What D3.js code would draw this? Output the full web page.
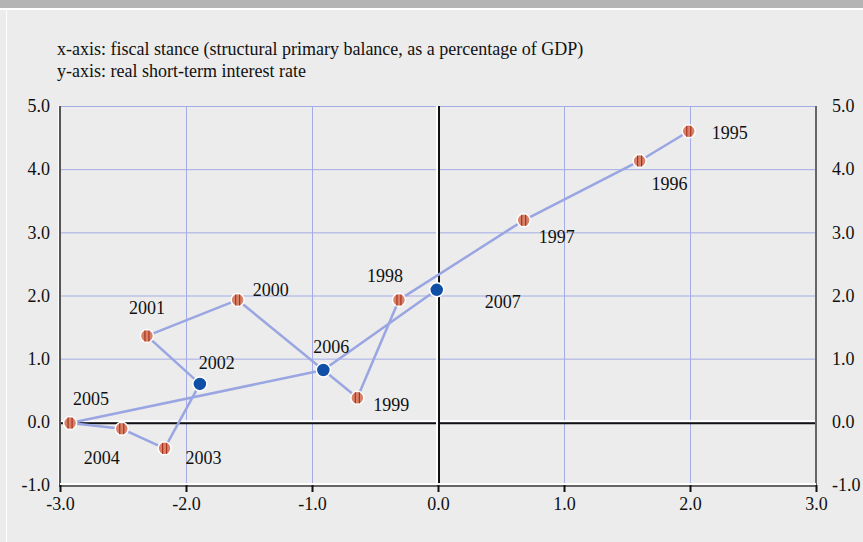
<!DOCTYPE html>
<html>
<head>
<meta charset="utf-8">
<script src="https://cdn.jsdelivr.net/npm/d3@7"></script>
<style>
  body { margin: 0; background: #ececec; }
</style>
</head>
<body>
<div id="chart"></div>
<script>
// data
const years = [1995, 1996, 1997, 1998, 1999, 2000, 2001, 2002, 2003, 2004, 2005, 2006, 2007];
const fiscal = [1.99, 1.60, 0.68, -0.31, -0.64, -1.59, -2.31, -1.89, -2.17, -2.51, -2.92, -0.91, -0.01];
const rate = [4.60, 4.13, 3.19, 1.93, 0.38, 1.93, 1.36, 0.60, -0.42, -0.11, -0.02, 0.82, 2.09];
const highlighted = [2002, 2006, 2007];
const xTicks = [-3, -2, -1, 0, 1, 2, 3];
const yTicks = [-1, 0, 1, 2, 3, 4, 5];
const titleLines = [
    "x-axis: fiscal stance (structural primary balance, as a percentage of GDP)",
    "y-axis: real short-term interest rate"
];

// label placement (pixels from the point)
const labelOffset = {
    1995: [23, 8], 1996: [12, 29], 1997: [15, 23], 1998: [-32, -18],
    1999: [16, 13], 2000: [15, -4], 2001: [-18, -22], 2002: [-1, -15],
    2003: [21, 16], 2004: [-38, 35], 2005: [3, -18], 2006: [-10, -17],
    2007: [48, 18]
};

const data = years.map((y, i) => ({year: y, x: fiscal[i], y: rate[i]}));

const FONT = "Liberation Serif";
const FS = 18;

const W = 863, H = 542;
const margin = {top: 106, right: 47, bottom: 57, left: 60};
const width = W - margin.left - margin.right,
    height = H - margin.top - margin.bottom;

const fmt = d => d3.format(".1f")(d).replace("\u2212", "-");

const svg = d3.select("#chart").append("svg")
    .attr("width", W).attr("height", H);

// frame
svg.append("rect").attr("width", W).attr("height", H).attr("fill", "#ececec");
svg.append("rect").attr("width", W).attr("height", 8).attr("fill", "#b4b4b4");
svg.append("rect").attr("x", 0).attr("y", 8).attr("width", W).attr("height", 2).attr("fill", "#ffffff");
svg.append("rect").attr("x", 6).attr("y", 8).attr("width", 1).attr("height", H).attr("fill", "#ffffff");

// title
svg.append("g").selectAll("text")
    .data(titleLines)
    .join("text")
    .attr("x", 57)
    .attr("y", (d, i) => 55 + i * 22)
    .attr("font-size", FS)
    .attr("font-family", FONT)
    .attr("fill", "#111")
    .text(d => d);

const g = svg.append("g")
    .attr("transform", "translate(" + margin.left + "," + margin.top + ")");

const x = d3.scaleLinear().domain([-3, 3]).range([0, width]);
const y = d3.scaleLinear().domain([-1, 5]).range([height, 0]);

// gridlines
g.append("g")
    .call(d3.axisLeft(y).tickValues(yTicks).tickSize(-width).tickFormat(""))
    .call(a => a.select(".domain").remove())
    .selectAll("line").attr("stroke", "#a3ace6").attr("stroke-width", 1);
g.append("g")
    .attr("transform", `translate(0, ${height})`)
    .call(d3.axisBottom(x).tickValues(xTicks).tickSize(-height).tickFormat(""))
    .call(a => a.select(".domain").remove())
    .selectAll("line").attr("stroke", "#a3ace6").attr("stroke-width", 1);

// zero lines: white highlight + dark line
g.append("line")
    .attr("x1", 0).attr("x2", width)
    .attr("y1", y(0) - 0.5).attr("y2", y(0) - 0.5)
    .attr("stroke", "#fff").attr("stroke-width", 2);
g.append("line")
    .attr("x1", 0).attr("x2", width)
    .attr("y1", y(0) + 1.5).attr("y2", y(0) + 1.5)
    .attr("stroke", "#111").attr("stroke-width", 2);
g.append("line")
    .attr("x1", x(0) - 1).attr("x2", x(0) - 1)
    .attr("y1", 0).attr("y2", height)
    .attr("stroke", "#fff").attr("stroke-width", 2);
g.append("line")
    .attr("x1", x(0) + 1).attr("x2", x(0) + 1)
    .attr("y1", 0).attr("y2", height)
    .attr("stroke", "#111").attr("stroke-width", 2);

// left / right / bottom axis lines
g.append("line").attr("x1", -1.5).attr("x2", -1.5).attr("y1", 0).attr("y2", height)
    .attr("stroke", "#fff").attr("stroke-width", 1);
g.append("line").attr("x1", 0).attr("x2", 0).attr("y1", 0).attr("y2", height + 2)
    .attr("stroke", "#555").attr("stroke-width", 2);
g.append("line").attr("x1", width).attr("x2", width).attr("y1", 0).attr("y2", height + 2)
    .attr("stroke", "#666").attr("stroke-width", 2);
g.append("line").attr("x1", 0).attr("x2", width).attr("y1", height - 1).attr("y2", height - 1)
    .attr("stroke", "#fff").attr("stroke-width", 2);
g.append("line").attr("x1", 0).attr("x2", width).attr("y1", height + 1).attr("y2", height + 1)
    .attr("stroke", "#666").attr("stroke-width", 2);

// bottom ticks + labels
const xAxis = g.append("g")
    .attr("transform", `translate(0, ${height})`)
    .call(d3.axisBottom(x).tickValues(xTicks).tickSize(7).tickPadding(5).tickFormat(fmt));
xAxis.select(".domain").remove();
xAxis.selectAll("line").attr("stroke", "#111").attr("stroke-width", 2);
xAxis.selectAll("text")
    .attr("font-size", FS)
    .attr("font-family", FONT)
    .attr("fill", "#111");

// left labels
const yAxisL = g.append("g")
    .call(d3.axisLeft(y).tickValues(yTicks).tickSize(0).tickPadding(10).tickFormat(fmt));
yAxisL.select(".domain").remove();
yAxisL.selectAll("text")
    .attr("font-size", FS).attr("font-family", FONT).attr("fill", "#111");

// right labels
const yAxisR = g.append("g")
    .attr("transform", `translate(${width}, 0)`)
    .call(d3.axisRight(y).tickValues(yTicks).tickSize(0).tickPadding(16).tickFormat(fmt));
yAxisR.select(".domain").remove();
yAxisR.selectAll("text")
    .attr("font-size", FS).attr("font-family", FONT).attr("fill", "#111");

// connecting line
const line = d3.line().x(d => x(d.x)).y(d => y(d.y));
g.append("path")
    .datum(data)
    .attr("d", line)
    .attr("fill", "none")
    .attr("stroke", "#9aa6e2")
    .attr("stroke-width", 2.5);

// markers
const pts = g.selectAll(".pt")
    .data(data)
    .join("g")
    .attr("class", "pt")
    .attr("transform", d => `translate(${x(d.x)},${y(d.y)})`);

pts.append("circle")
    .attr("r", d => highlighted.includes(d.year) ? 7 : 6.5)
    .attr("fill", d => highlighted.includes(d.year) ? "#0f4fa5" : "#d9826a")
    .attr("stroke", "#fff")
    .attr("stroke-width", 1.5);

pts.filter(d => !highlighted.includes(d.year))
    .selectAll("line")
    .data([-2, 2])
    .join("line")
    .attr("x1", d => d).attr("x2", d => d)
    .attr("y1", -5.5).attr("y2", 5.5)
    .attr("stroke", "#a8321e")
    .attr("stroke-width", 1.2);

// year labels
g.selectAll(".lbl")
    .data(data)
    .join("text")
    .attr("class", "lbl")
    .attr("x", d => x(d.x) + labelOffset[d.year][0])
    .attr("y", d => y(d.y) + labelOffset[d.year][1])
    .attr("font-size", FS)
    .attr("font-family", FONT)
    .attr("fill", "#111")
    .text(d => d.year);
</script>
</body>
</html>
